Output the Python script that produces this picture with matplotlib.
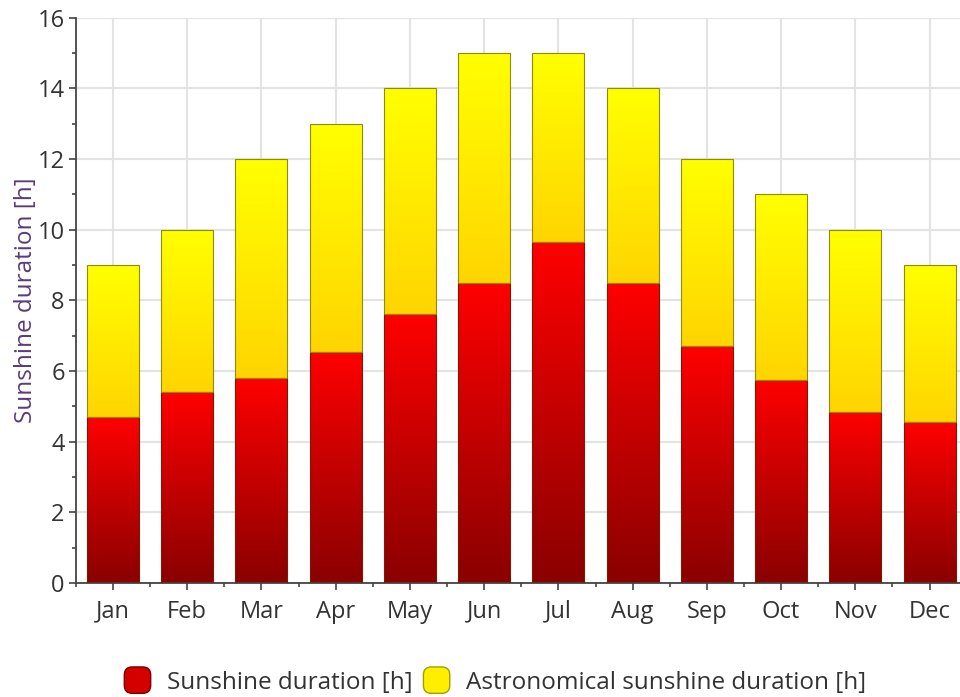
import numpy as np
import matplotlib
matplotlib.use("Agg")
import matplotlib.pyplot as plt
from matplotlib.colors import LinearSegmentedColormap
from matplotlib.patches import FancyBboxPatch, Patch
from matplotlib.legend_handler import HandlerPatch
from matplotlib.ticker import MultipleLocator, FixedLocator

months = ["Jan", "Feb", "Mar", "Apr", "May", "Jun", "Jul", "Aug", "Sep", "Oct", "Nov", "Dec"]
sunshine = [4.7, 5.4, 5.8, 6.55, 7.6, 8.5, 9.65, 8.5, 6.7, 5.75, 4.85, 4.55]
astronomical = [9, 10, 12, 13, 14, 15, 15, 14, 12, 11, 10, 9]

plt.rcParams['font.family'] = ['Open Sans', 'DejaVu Sans']

fig = plt.figure(figsize=(9.6, 6.97), dpi=100)
ax = fig.add_axes([0.079, 0.1636, 0.928, 0.811])

x = np.arange(len(months))
width = 0.7
remaining = [a - s for a, s in zip(astronomical, sunshine)]

red_cmap = LinearSegmentedColormap.from_list("red", ["#8a0000", "#c40000", "#ff0000"])
yel_cmap = LinearSegmentedColormap.from_list("yel", ["#ffd500", "#ffff00"])

bars_red = ax.bar(x, sunshine, width, facecolor="none", edgecolor="#7a1a00", linewidth=0.8, zorder=3)
bars_yel = ax.bar(x, remaining, width, bottom=sunshine, facecolor="none", edgecolor="#8c8c10", linewidth=0.8, zorder=3)

grad = np.linspace(0, 1, 256).reshape(-1, 1)
for bars, cmap in [(bars_red, red_cmap), (bars_yel, yel_cmap)]:
    for b in bars:
        x0, y0 = b.get_x(), b.get_y()
        w, h = b.get_width(), b.get_height()
        im = ax.imshow(grad, cmap=cmap, origin="lower", aspect="auto",
                       extent=(x0, x0 + w, y0, y0 + h), zorder=2, interpolation="bilinear")
        im.set_clip_path(b)

ax.set_xlim(-0.5, 11.5)
ax.set_ylim(0, 16)
ax.set_xticks(x)
ax.set_xticklabels(months)
ax.xaxis.set_minor_locator(FixedLocator(np.arange(-0.5, 12, 1)))
ax.yaxis.set_major_locator(MultipleLocator(2))
ax.yaxis.set_minor_locator(MultipleLocator(1))

ax.grid(True, which="major", color="#e3e3e3", linewidth=1.5, zorder=0)
ax.set_axisbelow(True)

for s in ["top", "right"]:
    ax.spines[s].set_visible(False)
for s in ["left", "bottom"]:
    ax.spines[s].set_color("#444444")
    ax.spines[s].set_linewidth(1.3)

ax.tick_params(axis="both", which="major", labelsize=17, colors="#444444", labelcolor="#333333", length=5, width=1.2)
ax.tick_params(axis="both", which="minor", colors="#444444", length=3, width=1.2)
ax.tick_params(axis="x", which="major", pad=7)
ax.tick_params(axis="y", which="major", pad=3)

ax.set_ylabel("Sunshine duration [h]", fontsize=17.5, color="#5a3c7a", labelpad=0)


class RoundHandler(HandlerPatch):
    def create_artists(self, legend, orig_handle, xdescent, ydescent, width, height, fontsize, trans):
        s = height * 1.55
        p = FancyBboxPatch((-xdescent + (width - s) / 2, -ydescent + (height - s) / 2), s, s,
                           boxstyle="round,pad=0,rounding_size=%f" % (s * 0.3),
                           facecolor=orig_handle.get_facecolor(), edgecolor=orig_handle.get_edgecolor(),
                           linewidth=1.0, transform=trans)
        return [p]

handles = [Patch(facecolor="#d40000", edgecolor="#7a0000"),
           Patch(facecolor="#ffee00", edgecolor="#a0a000")]
fig.legend(handles, ["Sunshine duration [h]", "Astronomical sunshine duration [h]"],
           loc="lower center", bbox_to_anchor=(0.515, -0.028), ncol=2, frameon=False,
           fontsize=17.5, handler_map={Patch: RoundHandler()}, handlelength=1.2,
           handletextpad=0.6, columnspacing=0.4, labelcolor="#333333")

fig.savefig("out.png", dpi=100)
